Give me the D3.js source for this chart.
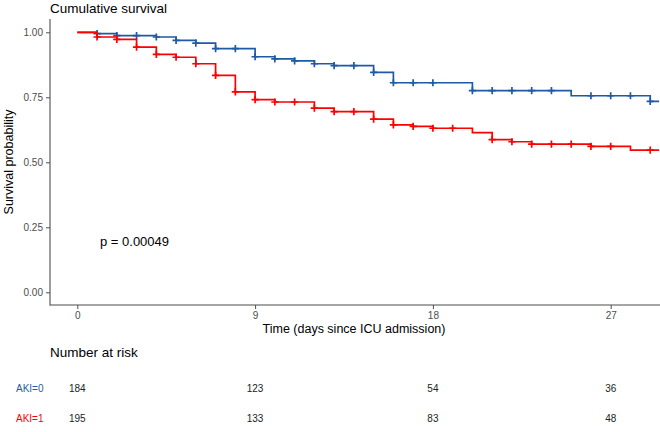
<!DOCTYPE html>
<html>
<head>
<meta charset="utf-8">
<script src="https://cdn.jsdelivr.net/npm/d3@7"></script>
<style>
  html, body { margin: 0; padding: 0; background: #fff; }
  svg { display: block; font-family: "Liberation Sans", Arial, sans-serif; }
</style>
</head>
<body>
<svg id="chart" width="660" height="432"></svg>
<script>
// ---- data ----
const days = [0,1,2,3,4,5,6,7,8,9,10,11,12,13,14,15,16,17,18,19,20,21,22,23,24,25,26,27,28,29];
const survAKI0 = [1.000,0.995,0.987,0.987,0.982,0.969,0.958,0.937,0.937,0.906,0.898,0.890,0.879,0.872,0.872,0.846,0.806,0.806,0.806,0.806,0.776,0.776,0.776,0.776,0.776,0.756,0.756,0.756,0.756,0.734];
const survAKI1 = [1.000,0.982,0.973,0.943,0.915,0.904,0.879,0.834,0.771,0.741,0.732,0.732,0.708,0.695,0.695,0.666,0.644,0.638,0.631,0.631,0.614,0.587,0.579,0.570,0.570,0.570,0.561,0.561,0.547,0.547];
const followUpEnd = 29.45;
const censorAKI0 = [1,2,3,4,5,6,7,8,9,10,11,12,13,14,15,16,17,18,20,21,22,23,24,26,27,28,29];
const censorAKI1 = [1,2,3,4,5,6,7,8,9,10,11,12,13,14,15,16,17,18,19,21,22,23,24,25,26,27,29];
const groups = ["AKI=0", "AKI=1"];
const xTicks = [0, 9, 18, 27];
const yTicks = [0, 0.25, 0.5, 0.75, 1];
const riskAKI0 = [184, 123, 54, 36];
const riskAKI1 = [195, 133, 83, 48];
const pText = "p = 0.00049";

// ---- layout ----
const colors = {"AKI=0": "#1f5aa6", "AKI=1": "#ff0000"};
const svg = d3.select("#chart");
const x = d3.scaleLinear().domain([0, 27]).range([77.3, 610.7]);
const y = d3.scaleLinear().domain([0, 1]).range([292.3, 32.3]);
const axisLeft = 50, axisBottom = 305, plotTop = 19, plotRight = 660;
const axisCol = "#4d4d4d";

// title
svg.append("text").attr("x", 50).attr("y", 12.5)
  .attr("font-size", 13.5).attr("fill", "#000").text("Cumulative survival");

// axes lines
svg.append("line").attr("x1", axisLeft).attr("x2", axisLeft).attr("y1", plotTop).attr("y2", axisBottom + 0.5)
  .attr("stroke", axisCol).attr("stroke-width", 1.1);
svg.append("line").attr("x1", axisLeft).attr("x2", plotRight).attr("y1", axisBottom).attr("y2", axisBottom)
  .attr("stroke", axisCol).attr("stroke-width", 1.1);

// y axis ticks & labels
const yAxis = d3.axisLeft(y).tickValues(yTicks).tickFormat(d3.format(".2f")).tickSize(4).tickPadding(3);
const gy = svg.append("g").attr("transform", `translate(${axisLeft},0)`).call(yAxis);
gy.select(".domain").remove();
gy.selectAll("line").attr("stroke", axisCol);
gy.selectAll("text").attr("font-size", 10).attr("fill", axisCol).attr("font-family", "Liberation Sans, Arial, sans-serif");

// x axis ticks & labels
const xAxis = d3.axisBottom(x).tickValues(xTicks).tickFormat(d3.format("d")).tickSize(4).tickPadding(3);
const gx = svg.append("g").attr("transform", `translate(0,${axisBottom})`).call(xAxis);
gx.select(".domain").remove();
gx.selectAll("line").attr("stroke", axisCol);
gx.selectAll("text").attr("font-size", 10).attr("fill", axisCol).attr("font-family", "Liberation Sans, Arial, sans-serif");

// axis titles
svg.append("text").attr("x", 354).attr("y", 333).attr("text-anchor", "middle")
  .attr("font-size", 12.5).attr("fill", "#000").text("Time (days since ICU admission)");
svg.append("text").attr("transform", "translate(13,162) rotate(-90)").attr("text-anchor", "middle")
  .attr("font-size", 12.5).attr("fill", "#000").text("Survival probability");

// curves
const line = d3.line().x(d => x(d[0])).y(d => y(d[1])).curve(d3.curveStepAfter);
function series(vals) {
  const pts = days.map((d, i) => [d, vals[i]]);
  pts.push([followUpEnd, vals[vals.length - 1]]);
  return pts;
}
const data = [
  {g: "AKI=0", pts: series(survAKI0), cens: censorAKI0, vals: survAKI0},
  {g: "AKI=1", pts: series(survAKI1), cens: censorAKI1, vals: survAKI1}
];
data.forEach(s => {
  svg.append("path").attr("d", line(s.pts)).attr("fill", "none")
    .attr("stroke", colors[s.g]).attr("stroke-width", 1.7);
  const m = svg.append("g");
  s.cens.forEach(c => {
    const v = s.vals[days.indexOf(c)];
    const cx = x(c), cy = y(v), h = 3.6;
    m.append("path").attr("d", `M${cx - h},${cy}H${cx + h}M${cx},${cy - h}V${cy + h}`)
      .attr("stroke", colors[s.g]).attr("stroke-width", 1.7).attr("fill", "none");
  });
});

// p-value
svg.append("text").attr("x", 100).attr("y", 245.5).attr("font-size", 13).attr("fill", "#000").text(pText);

// risk table
svg.append("text").attr("x", 50).attr("y", 357).attr("font-size", 13.5).attr("fill", "#000").text("Number at risk");
const risks = [riskAKI0, riskAKI1];
const rowY = [392, 422];
groups.forEach((g, gi) => {
  svg.append("text").attr("x", 16).attr("y", rowY[gi]).attr("font-size", 10).attr("fill", colors[g]).text(g);
  risks[gi].forEach((n, i) => {
    svg.append("text").attr("x", x(xTicks[i])).attr("y", rowY[gi]).attr("text-anchor", "middle")
      .attr("font-size", 10).attr("fill", "#222").text(n);
  });
});
</script>
</body>
</html>
